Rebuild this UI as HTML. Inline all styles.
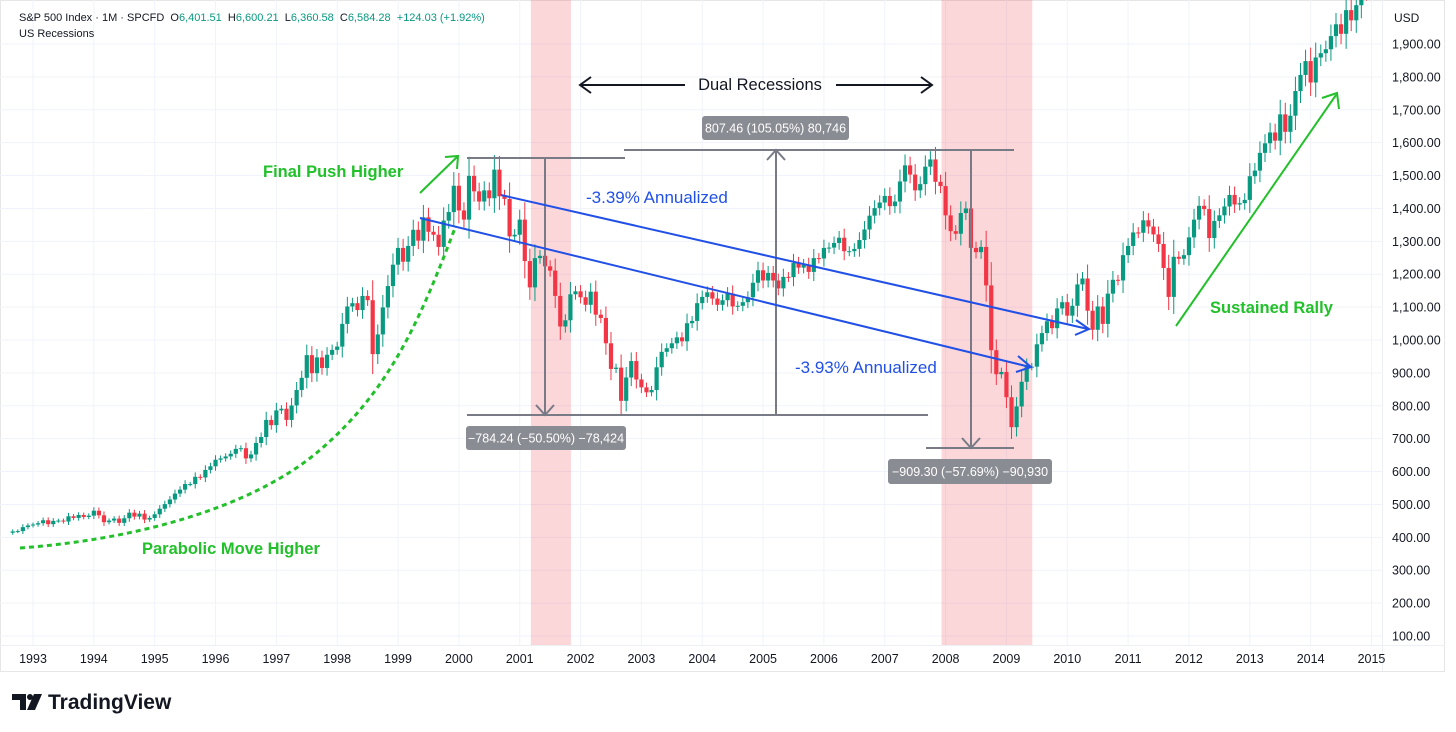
<!DOCTYPE html>
<html><head><meta charset="utf-8"><style>
body{margin:0;background:#fff;width:1456px;height:732px;overflow:hidden;font-family:"Liberation Sans",sans-serif}
svg{position:absolute;left:0;top:0}
</style></head><body>
<svg id="chart" width="1456" height="732"></svg>
<script>
const startYear=1992, startMonth=8; // first candle Sep 1992 (month index 8)
const closes=[418,419,431,436,
439,443,452,440,450,451,448,464,459,468,462,466,
481,467,446,451,457,444,458,475,463,472,454,459,
470,487,501,515,533,545,562,562,584,582,605,616,
636,640,646,654,669,671,640,652,687,705,757,741,
786,791,757,801,848,885,954,899,947,915,955,970,
980,1049,1102,1112,1091,1134,1121,957,1017,1099,1164,1229,
1280,1238,1286,1335,1302,1373,1329,1320,1283,1363,1389,1469,
1394,1366,1499,1452,1421,1455,1431,1518,1437,1429,1315,1320,
1366,1240,1160,1249,1256,1224,1211,1134,1041,1060,1139,1148,
1130,1107,1147,1077,1067,990,912,916,815,886,936,880,
856,841,848,917,964,975,990,1008,996,1051,1058,1112,
1131,1145,1126,1107,1121,1141,1102,1104,1115,1130,1174,1212,
1181,1204,1181,1157,1192,1191,1234,1220,1229,1207,1249,1248,
1280,1281,1295,1311,1270,1270,1277,1304,1336,1378,1401,1418,
1438,1407,1421,1482,1531,1503,1455,1474,1527,1549,1481,1468,
1379,1331,1323,1386,1400,1280,1267,1283,1166,969,896,903,
826,735,798,873,919,919,987,1021,1057,1036,1096,1115,
1074,1104,1169,1187,1089,1031,1102,1049,1141,1183,1181,1258,
1286,1327,1326,1364,1345,1321,1292,1219,1131,1253,1247,1258,
1312,1366,1408,1398,1310,1362,1379,1406,1441,1412,1416,1426,
1498,1515,1569,1598,1631,1606,1686,1633,1682,1757,1806,1848,
1783,1859,1872,1884,1924,1960,1931,2003,1972,2018,2068,2059];
const yearLabels=[1993,1994,1995,1996,1997,1998,1999,2000,2001,2002,2003,2004,2005,2006,2007,2008,2009,2010,2011,2012,2013,2014,2015];
const priceTicks=[100,200,300,400,500,600,700,800,900,1000,1100,1200,1300,1400,1500,1600,1700,1800,1900];
const recessions=[[2001,2,2001,10],[2007,11,2009,5]];

const NS="http://www.w3.org/2000/svg";
const svg=document.getElementById('chart');
function X(year,month){return 33+((year-1993)*12+month)*5.07;}
function Y(p){return 636-(p-100)*0.32889;}
function el(tag,attrs,parent){const e=document.createElementNS(NS,tag);for(const k in attrs)e.setAttribute(k,attrs[k]);(parent||svg).appendChild(e);return e;}
function txt(s,attrs){const t=el('text',attrs);t.textContent=s;return t;}

let fr=el('rect',{x:0.5,y:0.5,width:1444,height:671,fill:'none',stroke:'#e6e6e6'});


const grid=el('g',{stroke:'#f0f3fa','stroke-width':1});


priceTicks.forEach(p=>el('line',{x1:0,x2:1382,y1:Y(p),y2:Y(p)},grid));
yearLabels.forEach(y=>el('line',{x1:X(y,0),x2:X(y,0),y1:0,y2:645},grid));
el('line',{x1:0,x2:1445,y1:645.5,y2:645.5,stroke:'#eceff3'});
el('line',{x1:1382.5,x2:1382.5,y1:0,y2:671,stroke:'#eceff3'});

recessions.forEach((r,i)=>{
 const x1=X(r[0],r[1])+1,x2=X(r[2],r[3])+0.5;
 const b=el('rect',{x:x1,y:0,width:x2-x1,height:645,fill:'#f23645','fill-opacity':0.2});
 
 
});

const cg=el('g',{});


closes.forEach((c,i)=>{
 const o=i===0?c-4:closes[i-1];
 const m=startMonth+i, yr=startYear+Math.floor(m/12), mo=m%12;
 const x=X(yr,mo);
 const hi=Math.max(o,c)+Math.abs(c-o)*0.3+c*0.012, lo=Math.min(o,c)-Math.abs(c-o)*0.3-c*0.012;
 const col=c>=o?'#089981':'#f23645';
 const g=el('g',{},cg);
 
 
 el('line',{x1:x,x2:x,y1:Y(hi),y2:Y(lo),stroke:col,'stroke-width':1},g);
 const t=Y(Math.max(o,c)),b=Y(Math.min(o,c));
 el('rect',{x:x-2.1,y:t,width:4.2,height:Math.max(1,b-t),fill:col},g);
});

yearLabels.forEach(y=>{const t=txt(String(y),{x:X(y,0),y:663,'font-size':12.5,fill:'#131722','text-anchor':'middle'});
 });
priceTicks.forEach(p=>{const t=txt(p.toLocaleString('en-US',{minimumFractionDigits:2}),{x:1392,y:Y(p)+4.5,'font-size':12.5,fill:'#131722'});
 });
let usd=txt('USD',{x:1394,y:22,'font-size':12,fill:'#131722'});


const gray='#787b86';
function line(x1,y1,x2,y2,col,w,name){const l=el('line',{x1,y1,x2,y2,stroke:col,'stroke-width':w});return l;}
function head(x,y,dir,col,name){const d=dir==='down'?`M${x-9},${y-10}L${x},${y}L${x+9},${y-10}`:`M${x-9},${y+10}L${x},${y}L${x+9},${y+10}`;
 const p=el('path',{d,stroke:col,'stroke-width':2,fill:'none'});}
line(467,158,625,158,gray,2,'measure-top-line-2000');
line(545,158,545,415,gray,2,'measure-drop-2000');head(545,415,'down',gray,'measure-arrowhead');
line(467,415,928,415,gray,2,'measure-bottom-line-2002');
line(624,150,1014,150,gray,2,'measure-top-line-2007');
line(776,415,776,150,gray,2,'measure-rise-2002-2007');head(776,150,'up',gray,'measure-arrowhead');
line(971,150,971,448,gray,2,'measure-drop-2007');head(971,448,'down',gray,'measure-arrowhead');
line(926,448,1014,448,gray,2,'measure-bottom-line-2009');
function box(x,y,w,h,s,name){const g=el('g',{});
 el('rect',{x,y,width:w,height:h,rx:3,fill:'#8a8c93'},g);
 const t=el('text',{x:x+w/2,y:y+h/2+4.5,'font-size':12.5,fill:'#fff','text-anchor':'middle'},g);t.textContent=s;}
box(702,116,147,24,'807.46 (105.05%) 80,746','rise-label');
box(466,426,160,24,'\u2212784.24 (\u221250.50%) \u221278,424','drop-2000-label');
box(888,459,164,25,'\u2212909.30 (\u221257.69%) \u221290,930','drop-2007-label');

const blue='#2150e6';
line(501,195,1088,329,blue,2,'trend-line-upper');
el('path',{d:'M1076,320L1089,329L1075,335',stroke:blue,'stroke-width':2,fill:'none'});
line(420,218,1030,367,blue,2,'trend-line-lower');
el('path',{d:'M1018,356L1031,367L1016,372',stroke:blue,'stroke-width':2,fill:'none'});
let t1=txt('-3.39% Annualized',{x:586,y:203,'font-size':17,fill:blue});
let t2=txt('-3.93% Annualized',{x:795,y:373,'font-size':17,fill:blue});

const green='#22c02a';
let gp=el('path',{d:'M20,548 C130,540 250,510 320,450 C390,390 420,320 455,228',stroke:green,'stroke-width':3,'stroke-dasharray':'5,4',fill:'none'});

line(420,193,457,157,green,2,'final-push-arrow');el('path',{d:'M445,157L458,156L457,169',stroke:green,'stroke-width':2,fill:'none'});
line(1176,326,1336,95,green,2,'rally-arrow');el('path',{d:'M1322,98L1337,93L1339,109',stroke:green,'stroke-width':2,fill:'none'});
[['Final Push Higher',263,177,'final-push-label'],['Parabolic Move Higher',142,554,'parabolic-label'],['Sustained Rally',1210,313,'sustained-rally-label']].forEach(a=>{
 const t=txt(a[0],{x:a[1],y:a[2],'font-size':16.5,'font-weight':'bold',fill:green});});

let dr=txt('Dual Recessions',{x:760,y:90,'font-size':16.5,fill:'#131722','text-anchor':'middle'});

line(580,85,685,85,'#131722',2,'dual-arrow-left');el('path',{d:'M591,77L580,85L591,93',stroke:'#131722','stroke-width':2,fill:'none'});
line(836,85,932,85,'#131722',2,'dual-arrow-right');el('path',{d:'M921,77L932,85L921,93',stroke:'#131722','stroke-width':2,fill:'none'});

const h=el('text',{x:19,y:21,'font-size':11,fill:'#131722'});

h.innerHTML='S&amp;P 500 Index · 1M · SPCFD  O<tspan fill="#089981">6,401.51</tspan>  H<tspan fill="#089981">6,600.21</tspan>  L<tspan fill="#089981">6,360.58</tspan>  C<tspan fill="#089981">6,584.28</tspan>  <tspan fill="#089981">+124.03 (+1.92%)</tspan>';
h.setAttribute('xml:space','preserve');h.style.whiteSpace='pre';
let rl=txt('US Recessions',{x:19,y:37,'font-size':11,fill:'#131722'});

const lg=el('g',{});
el('path',{d:'M12,694H26V710H20V700H12Z',fill:'#131722'},lg);
el('circle',{cx:30,cy:697,r:3,fill:'#131722'},lg);
el('path',{d:'M34,694H42L35,710H27Z',fill:'#131722'},lg);
const lt=el('text',{x:48,y:709,'font-size':21,'font-weight':'bold',fill:'#131722'},lg);lt.textContent='TradingView';
</script>
</body></html>
